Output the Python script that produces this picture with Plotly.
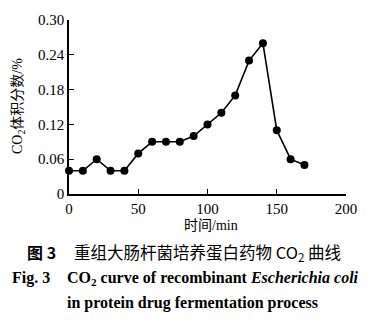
import plotly.graph_objects as go

time_min = [0, 10, 20, 30, 40, 50, 60, 70, 80, 90, 100, 110, 120, 130, 140, 150, 160, 170]
co2_pct = [0.04, 0.04, 0.06, 0.04, 0.04, 0.07, 0.09, 0.09, 0.09, 0.10, 0.12, 0.14, 0.17, 0.23, 0.26, 0.11, 0.06, 0.05]
x_ticks = [0, 50, 100, 150, 200]
y_ticks = [0, 0.06, 0.12, 0.18, 0.24, 0.30]
y_ticktext = ["0", "0.06", "0.12", "0.18", "0.24", "0.30"]

W, H = 371, 326
L, R, T, B = 69, 25, 12, 132
pw, ph = W - L - R, H - T - B

def px(x):
    return (x - L) / pw

def py(y):
    return (H - B - y) / ph

serif = "Liberation Serif"
cjk = "Noto Sans CJK SC"

fig = go.Figure(go.Scatter(
    x=time_min, y=co2_pct, mode="lines+markers",
    line=dict(color="black", width=1.6),
    marker=dict(color="black", size=8),
    cliponaxis=False,
))

axis_common = dict(showline=True, linecolor="black", linewidth=1.5, ticks="inside",
                   ticklen=5, tickwidth=1.3, tickcolor="black", showgrid=False, zeroline=False,
                   tickfont=dict(family=serif, size=15, color="black"))

fig.update_xaxes(range=[0, 200], tickvals=x_ticks, **axis_common)
fig.update_yaxes(range=[0, 0.30], tickvals=y_ticks, ticktext=y_ticktext, **axis_common)

ann = []
ann.append(dict(text="CO<sub>2</sub>体积分数/%", x=px(18), y=py(102), textangle=-90,
                font=dict(family=serif + ", " + cjk, size=14, color="black"),
                xanchor="center", yanchor="middle"))
ann.append(dict(text="时间/min", x=px(211), y=py(227),
                font=dict(family=serif + ", " + cjk, size=14, color="black"),
                xanchor="center", yanchor="middle"))
ann.append(dict(text="<b>图 3</b>", x=px(25), y=py(255),
                font=dict(family=cjk, size=16, color="black"), xanchor="left", yanchor="middle"))
ann.append(dict(text="重组大肠杆菌培养蛋白药物 CO<sub>2</sub> 曲线", x=px(72), y=py(255),
                font=dict(family=cjk, size=16.5, color="black"), xanchor="left", yanchor="middle"))
ann.append(dict(text="<b>Fig. 3</b>", x=px(10), y=py(282),
                font=dict(family=serif, size=16, color="black"), xanchor="left", yanchor="middle"))
ann.append(dict(text="<b>CO<sub>2</sub> curve of recombinant <i>Escherichia coli</i></b>", x=px(65), y=py(282),
                font=dict(family=serif, size=16, color="black"), xanchor="left", yanchor="middle"))
ann.append(dict(text="<b>in protein drug fermentation process</b>", x=px(65), y=py(308),
                font=dict(family=serif, size=16, color="black"), xanchor="left", yanchor="middle"))
for a in ann:
    a.update(xref="paper", yref="paper", showarrow=False)

fig.update_layout(
    width=W, height=H, margin=dict(l=L, r=R, t=T, b=B),
    paper_bgcolor="white", plot_bgcolor="white", showlegend=False,
    annotations=ann,
)

fig.write_html("out.html")
